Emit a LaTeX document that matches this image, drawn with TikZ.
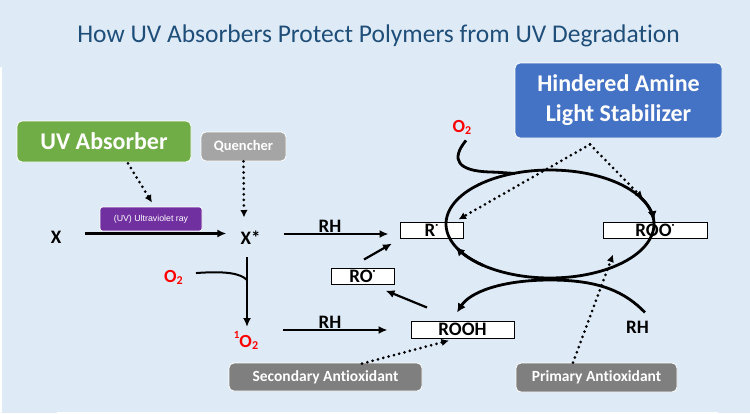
\documentclass[tikz,border=0pt]{standalone}
\usepackage{fontspec}
\setmainfont{Carlito}[Ligatures=NoCommon, RawFeature={-clig;-dlig}]
\newfontfamily\arialf{Liberation Sans}
\usetikzlibrary{arrows.meta}
\definecolor{bg}{HTML}{DEEBF7}
\definecolor{titleblue}{HTML}{1F4E79}
\definecolor{uvgreen}{HTML}{70AD47}
\definecolor{qgray}{HTML}{A5A5A5}
\definecolor{halsblue}{HTML}{4472C4}
\definecolor{uvpurple}{HTML}{7030A0}
\definecolor{agray}{HTML}{7F7F7F}
\definecolor{ored}{HTML}{FF0000}
\newcommand{\setfs}[1]{\fontsize{#1}{#1}\selectfont}
\newcommand{\rdot}{\raisebox{0.42em}{\setfs{11}\textbf{·}}}
\newcommand{\oxy}{\textbf{O\raisebox{-0.12em}{\setfs{12}2}}}
\tikzset{
  colbox/.style={rounded corners=5pt, draw=white, line width=0.8pt, text=white,
    font=\bfseries, inner sep=0pt, align=center},
  specbox/.style={draw=black, fill=white, line width=1pt, inner sep=0pt,
    font=\setfs{19}\bfseries, text height=12pt, text depth=0pt},
  lbl/.style={inner sep=0pt, font=\setfs{19}\bfseries},
  redlbl/.style={inner sep=0pt, text=ored, font=\setfs{18.5}},
  arr/.style={line width=2.2pt, -{Latex[length=9pt,width=8pt]}},
  sline/.style={line width=2pt},
  dots/.style={line width=3pt, line cap=round, dash pattern=on 0pt off 5.5pt,
    -{Latex[length=7.5pt,width=7.5pt,line cap=butt]}},
  cyc/.style={line width=2.8pt},
}
\begin{document}
\begin{tikzpicture}[x=1pt,y=-1pt]
\useasboundingbox (0,0) rectangle (750,413);
\fill[bg] (0,0) rectangle (750,413);
\fill[white] (0,67) rectangle (2,413);
\fill[white] (57,411.5) rectangle (718,413);

% title
\node[inner sep=0pt, text=titleblue, font=\setfs{25.5}, anchor=base] (title) at (378.5,42) {How UV Absorbers Protect Polymers from UV Degradation};

% coloured boxes
\node[colbox, fill=uvgreen, minimum width=174pt, minimum height=41pt, font=\setfs{24}\bfseries] (uva) at (104,141.5) {UV Absorber};
\node[colbox, fill=qgray, minimum width=85pt, minimum height=29pt, font=\setfs{14.5}\bfseries] (que) at (243.5,146.5) {Quencher};
\node[colbox, fill=halsblue, minimum width=207pt, minimum height=75pt, font=\fontsize{24}{30}\selectfont\bfseries] (hals) at (618.5,100.5) {Hindered Amine\\Light Stabilizer};
\node[colbox, fill=uvpurple, rounded corners=2.5pt, minimum width=102pt, minimum height=24pt, font=\arialf\setfs{8.8}] (uvr) at (151,219) {(UV) Ultraviolet ray};
\node[colbox, fill=agray, minimum width=193pt, minimum height=28pt, font=\setfs{15.5}\bfseries] (sec) at (325.5,377) {Secondary Antioxidant};
\node[colbox, fill=agray, minimum width=161pt, minimum height=29pt, font=\setfs{15.5}\bfseries] (pri) at (596.5,377.5) {Primary Antioxidant};

% species
\node[lbl] (X) at (56,237.5) {X};
\node[lbl] (Xs) at (250.5,237.5) {X*};
\node[specbox, minimum width=63pt, minimum height=16pt] (R) at (431.5,230) {R\rdot};
\node[specbox, minimum width=63pt, minimum height=16pt] (RO) at (362.5,276) {RO\rdot};
\node[specbox, minimum width=103pt, minimum height=17pt] (ROOH) at (462.5,329.5) {ROOH};
\node[specbox, minimum width=104pt, minimum height=16pt] (ROO) at (655,230) {ROO\rdot};
\node[lbl, anchor=base] (rh1) at (330,232) {RH};
\node[lbl, anchor=base] (rh2) at (330,328) {RH};
\node[lbl, anchor=base] (rh3) at (637.5,333) {RH};
\node[redlbl, anchor=base] (o2a) at (173.5,282) {\oxy};
\node[redlbl, anchor=base] (o2b) at (462,132) {\oxy};
\node[redlbl, anchor=base] (o2s) at (246,347) {\raisebox{0.45em}{\setfs{11}\textbf{1}}\oxy};

% main arrows
\draw[arr] ([shift={(24,-4)}]X.east) -- ([shift={(-14,-4)}]Xs.west);
\draw[arr] ([shift={(23,-3.5)}]Xs.east) -- ([shift={(-11,4)}]R.west);
\coordinate (vtop) at (247,257);
\coordinate (vbot) at (247,327);
\draw[arr] (vtop) -- (vbot);
\draw[sline] ([shift={(13,-4)}]o2a.east) .. controls (225,271) and (240,273) .. (247,280);
\draw[arr] ([shift={(-128,0.5)}]ROOH.west) -- ([shift={(-23,0.5)}]ROOH.west);
\draw[arr] ([shift={(1.5,-8)}]RO.north) -- ([shift={(-39.5,5)}]R.south);
\draw[arr] ([shift={(-35.5,-13)}]ROOH.north) -- ([shift={(-9,6)}]RO.south east);

% dotted influence arrows
\draw[dots] ([shift={(24,1)}]uva.south) -- ([shift={(1,-4)}]uvr.north);
\draw[dots] (que.south) -- ([shift={(-6.5,-13)}]Xs.north);
\draw[dots] ([shift={(-28.5,6)}]hals.south) -- ([shift={(-5,-2)}]R.north east);
\draw[dots] ([shift={(-28.5,6)}]hals.south) -- ([shift={(-12,-23)}]ROO.north);
\draw[dots] ([shift={(36.5,1)}]sec.north) -- ([shift={(-13.5,2)}]ROOH.south);
\draw[dots] ([shift={(-23.5,0)}]pri.north) -- ([shift={(-42,16)}]ROO.south);

% propagation cycle
\draw[cyc] plot[domain=0:360, samples=120, smooth] ({550+104*cos(\x)},{224+54*sin(\x)});
\draw[cyc, -{Latex[length=9pt,width=9pt]}] plot[domain=-30:-4, samples=12] ({550+104*cos(\x)},{224+54*sin(\x)});
\draw[cyc, -{Latex[length=9pt,width=9pt]}] plot[domain=130:155, samples=12] ({550+104*cos(\x)},{224+54*sin(\x)});
\draw[cyc] ([shift={(4,6)}]o2b.south) .. controls (450,160) and (458,171) .. (490,172) .. controls (500,172.3) and (508,173) .. (515,173.5);
\draw[cyc, -{Latex[length=9pt,width=9pt]}] ([shift={(7.5,-8)}]rh3.north) .. controls (625,292) and (600,280) .. (550,280) .. controls (502,280) and (470,292) .. ([shift={(-5.5,-8)}]ROOH.north);
\end{tikzpicture}
\end{document}
